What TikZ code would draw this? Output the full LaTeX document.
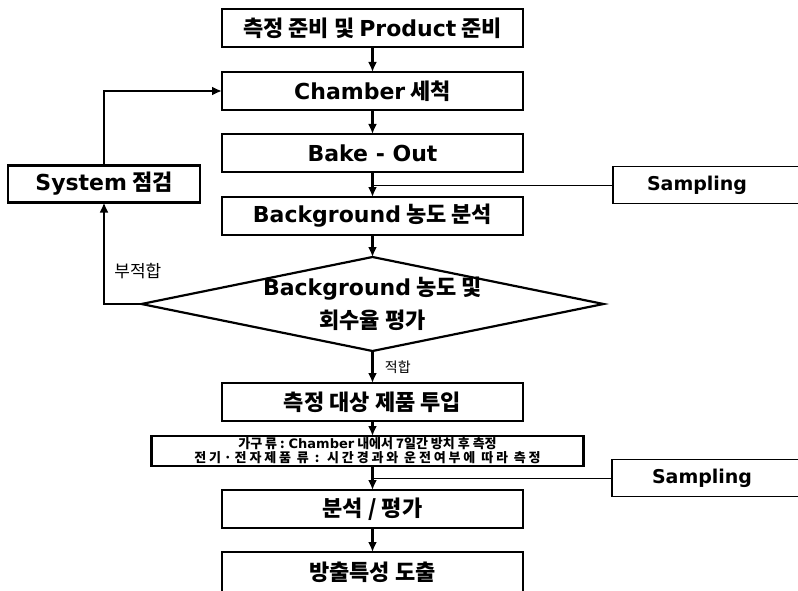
\documentclass[tikz,border=0pt]{standalone}
\usepackage{fontspec}
\setmainfont{Noto Sans CJK KR}
\newfontfamily\enfont{DejaVu Sans}
\usetikzlibrary{arrows.meta,positioning,shapes.geometric}

\begin{document}
\begin{tikzpicture}[x=1pt,y=1pt,font=\fontsize{22}{26}\selectfont\bfseries,>={Latex[length=10pt,width=9pt]}]
    \tikzstyle{bx}=[draw,line width=2.2pt,outer sep=0pt,minimum width=301pt,minimum height=38pt,inner sep=1pt,align=center]
    \tikzstyle{ar}=[->,line width=2.2pt]
    \tikzstyle{sm}=[draw,line width=1.8pt,outer sep=0pt,minimum height=37pt,inner xsep=34pt,anchor=west,font=\fontsize{19}{22}\selectfont\bfseries]
    \tikzstyle{lb}=[font=\fontsize{14}{16}\selectfont\mdseries]
    \useasboundingbox (0,0) rectangle (798,-591);
    % main column
    \node[bx] (prep) at (372.5,-28) {측정 준비 및 {\enfont Product} 준비};
    \node[bx,below=25pt of prep] (clean) {{\enfont Chamber} 세척};
    \node[bx,below=24pt of clean] (bake) {\enfont Bake - Out};
    \node[bx,below=25pt of bake] (bg) {{\enfont Background} 농도 분석};
    \node[draw,diamond,line width=2.2pt,outer sep=0pt,shape aspect=4.9,inner xsep=-10pt,inner ysep=-6pt,
          minimum width=462pt,minimum height=94pt,align=center,below=22pt of bg] (chk)
          {{\enfont Background} 농도 및\\[7pt]회수율 평가};
    \node[bx,below=32pt of chk] (put) {측정 대상 제품 투입};
    \node[bx,minimum width=432pt,minimum height=30pt,inner ysep=1pt,font=\fontsize{13}{14}\selectfont\bfseries,
          below=15pt of put,xshift=-5pt] (cond) {가구 류 : {\enfont Chamber} 내에서 7일간 방치 후 측정\\
          {\addfontfeatures{LetterSpace=22}전기·전자제품 류 : 시간경과와 운전여부에 따라 측정}};
    \node[bx,below=24pt of cond,xshift=5pt] (ana) {분석 / 평가};
    \node[bx,minimum height=40pt,below=24pt of ana] (res) {방출특성 도출};
    % side boxes
    \node[bx,minimum width=192pt,minimum height=37pt] (sys) at (104,-184) {{\enfont System} 점검};
    \node[sm] (samp1) at (613,-185) {{\enfont Sampling}\hspace*{60pt}};
    \node[sm,inner xsep=40pt] (samp2) at (612,-478) {{\enfont Sampling}\hspace*{60pt}};

    \draw[ar] (prep) -- (clean);
    \draw[ar] (clean) -- (bake);
    \draw[ar] (bake) -- (bg);
    \draw[ar] (bg) -- (chk);
    \draw[ar] (chk) -- node[lb,right=8pt]{적합} (put);
    \draw[ar] (put.south) -- (put.south |- cond.north);
    \draw[ar] (cond.south -| ana) -- (ana);
    \draw[ar] (ana) -- (res);
    \draw[ar] (chk.west) -| node[lb,font=\fontsize{17}{19}\selectfont\mdseries,pos=0.66,right=6pt]{부적합} (sys.south);
    \draw[ar] (sys.north) |- (clean.west);
    \draw[line width=0.8pt] (samp1.west) -- (bake |- samp1.west);
    \draw[line width=0.8pt] (samp2.west) -- (ana |- samp2.west);
\end{tikzpicture}
\end{document}
